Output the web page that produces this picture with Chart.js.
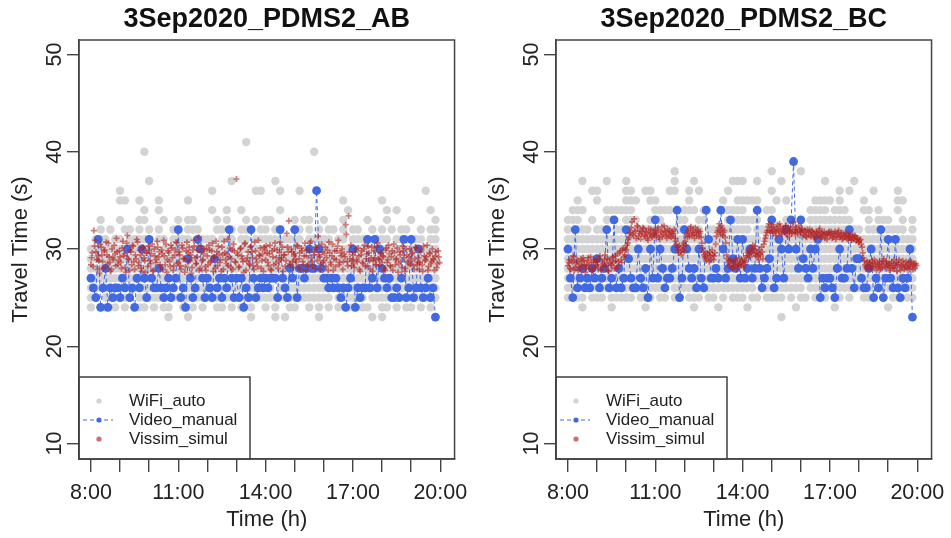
<!DOCTYPE html>
<html>
<head>
<meta charset="utf-8">
<script src="https://cdn.jsdelivr.net/npm/chart.js@4.4.1/dist/chart.umd.min.js"></script>
<style>
  body { margin: 0; background: #fff; width: 951px; height: 538px; overflow: hidden; position: relative; }
  canvas { position: absolute; top: 0; }
</style>
</head>
<body>
<canvas id="chartAB" width="476" height="538" style="left:0"></canvas>
<canvas id="chartBC" width="476" height="538" style="left:477px"></canvas>
<script>
// axis ticks
const hourTicks = [8, 9, 10, 11, 12, 13, 14, 15, 16, 17, 18, 19, 20];
const hourLabels = [8, 11, 14, 17, 20];
const yTicks = [10, 20, 30, 40, 50];
const seriesNames = ['WiFi_auto', 'Video_manual', 'Vissim_simul'];

// WiFi_auto: one row per travel-time level, one column per 10 min from 8:00 ('#' = detection)
const wifiLevelsAB = [41, 40, 37, 36, 35, 34, 33, 32, 31, 30, 29, 28, 27, 26, 25, 24, 23];
const wifiRowsAB = [
  "............ ............ ........#... ............ ............ ............",
  "...........# ............ ............ ..........#. ............ ............",
  "............ #........... .....#...... ..#......... ............ ............",
  "......#..... ............ .#........## ...#...#.... ............ .........#..",
  "......##..#. ..#.....#... ............ ............ ....#....... #...........",
  "...........# ..#......... .#..#..#.... ...#........ .....#...... .#.#......#.",
  "..#...#...## ...#..#.##.. ..#.#...#.#. ##....#.##.. #...#....#.. .#....#....#",
  "..#.#..##.#. #.#..##.###. ..##.#.###.# #.##..##.#.# .##.#.##..#. #.#.##..#.##",
  ".###.##.#### #.##.####.## ##.###.##.## ###.####.### ##.##.####.# ##.###.##.##",
  "############ ##.######### ######.##### ############ ###.######## ########.###",
  "############ ############ ############ ############ ############ ############",
  "############ ############ ############ ############ ############ ############",
  "############ ############ ############ ############ ############ ############",
  "############ ######.##### ############ ##.######### ############ ############",
  "##.######.## ####.####### ######.###.# ###.######## ##.######.## ############",
  "#.##.#.#..## .#.##..#.#.# ..##.#.#.#.. #.#..##..#.# .#.#..#.##.. ##.#.##.#.#.",
  "............ ....#...#... .........#.. ..#.#......# ..........#. #..........#"
];
const wifiLevelsBC = [38, 37, 36, 35, 34, 33, 32, 31, 30, 29, 28, 27, 26, 25, 24, 23];
const wifiRowsBC = [
  "............ ..........#. ............ ......#..... #........... ............",
  "...#....#... #.........#. ..#.......## #..#....#... .....#.....# ............",
  ".....##..... ##..##...##. .#.#.....#.. ......#..... ........#.#. ...#....#...",
  "..#...#..... ###..##..... .#......#..# ####...#.#.. ...####.#... .#......##..",
  ".###....#### ##....####.. ###.#...#### #....##..... ..####.###.. .##.#...#...",
  "###..#..##.. ###..###...# #..##....### ####.....#.. ..#########. ..#.###..#.#",
  "#.###.###.## ##.####.#### ####.##.#### ##.######.## ############ #.###.####.#",
  "############ ###.######## ############ ####.####### ############ ############",
  "############ ############ ############ ############ ############ ############",
  "############ ############ ############ ############ ############ ############",
  "############ ############ ############ ############ ############ ############",
  "############ ############ ####.####### ############ ############ ############",
  "###.######## ##.######.## ############ ###.######## #.########## ############",
  "#.##.###.### ##.###.##.## .###.##.#.## #.##.####.#. ##.###.##.#. .###.#.##.##",
  "...#.....#.. ....#....... ..#....#.... .#.........# .......#.... ......#.....",
  "............ ............ ............ ........#... ............ ............"
];

// Video_manual: one value every 5 min from 8:00 to 19:50 (s)
const videoAB = [
  27, 26, 25, 31, 24, 26, 28, 24, 26, 25, 26, 26,
  25, 27, 26, 30, 25, 26, 24, 27, 26, 30, 27, 25,
  31, 27, 26, 26, 28, 26, 25, 26, 27, 25, 26, 27,
  32, 25, 26, 24, 29, 27, 25, 26, 31, 30, 27, 25,
  27, 26, 25, 29, 26, 27, 25, 27, 26, 32, 27, 25,
  27, 25, 27, 24, 26, 25, 32, 27, 25, 26, 27, 26,
  27, 26, 27, 27, 27, 25, 32, 27, 26, 25, 28, 27,
  32, 25, 28, 28, 27, 28, 30, 28, 28, 36, 30, 28,
  27, 27, 26, 27, 26, 27, 26, 25, 26, 24, 26, 27,
  30, 24, 26, 25, 26, 26, 31, 26, 27, 31, 26, 30,
  28, 27, 26, 27, 25, 25, 26, 25, 27, 31, 25, 26,
  31, 25, 26, 30, 26, 25, 26, 27, 25, 26, 23
];
const videoBC = [
  30, 27, 25, 32, 26, 27, 28, 26, 27, 26, 28, 27,
  29, 26, 27, 28, 32, 26, 27, 33, 26, 28, 26, 27,
  32, 29, 27, 26, 26, 30, 27, 26, 28, 25, 30, 27,
  33, 27, 30, 28, 26, 27, 27, 28, 30, 34, 25, 27,
  32, 30, 28, 27, 28, 26, 30, 27, 26, 34, 31, 27,
  27, 28, 27, 34, 30, 27, 28, 33, 29, 28, 31, 27,
  31, 27, 28, 30, 27, 28, 34, 28, 26, 27, 28, 29,
  33, 26, 27, 31, 30, 27, 32, 30, 33, 39, 30, 28,
  33, 29, 28, 27, 30, 28, 30, 31, 25, 27, 26, 27,
  27, 26, 25, 28, 30, 27, 27, 28, 32, 28, 26, 29,
  29, 27, 26, 26, 28, 30, 25, 27, 26, 32, 25, 27,
  31, 27, 26, 31, 26, 25, 27, 26, 27, 30, 23
];

// Vissim_simul: two runs, one value every 3 min from 8:00 (run 1) and 8:01.5 (run 2) (s)
const vissimAB1 = [
  28.4, 29.6, 31.9, 30.9, 28.9, 29.3, 27.5, 30.2, 28.7, 29.8, 28.1, 29.4, 30.6, 28.6, 27.9, 29.1, 30.4, 28.3, 29.7, 28.8,
  29.2, 28.0, 30.8, 29.5, 27.6, 31.4, 28.9, 29.9, 28.4, 30.3, 27.9, 29.0, 30.7, 28.6, 29.4, 27.7, 30.1, 28.8, 29.6, 28.2,
  29.9, 28.5, 30.5, 27.8, 29.3, 28.9, 30.2, 29.7, 28.1, 29.5, 30.9, 28.4, 27.6, 29.8, 28.7, 30.4, 29.1, 28.3, 29.9, 30.6,
  28.6, 29.4, 27.9, 30.1, 29.0, 28.2, 30.7, 29.6, 28.8, 27.5, 29.9, 30.3, 28.5, 29.2, 31.2, 28.0, 29.7, 28.9, 30.0, 27.8,
  29.3, 30.4, 28.6, 29.8, 27.7, 29.1, 30.8, 28.3, 29.5, 28.9, 30.2, 27.9, 29.6, 28.5, 31.0, 29.2, 28.1, 29.9, 30.5, 28.7,
  37.2, 29.4, 28.2, 30.1, 29.0, 27.6, 30.6, 28.8, 29.7, 28.4, 30.3, 29.1, 27.9, 29.8, 28.6, 30.9, 29.3, 28.0, 29.5, 30.2,
  28.9, 29.6, 28.3, 30.4, 27.8, 29.2, 30.0, 28.5, 29.9, 28.7, 30.7, 29.1, 27.7, 29.4, 28.8, 30.2, 32.9, 28.4, 29.7, 28.1,
  29.5, 28.6, 30.3, 29.0, 27.9, 29.8, 28.4, 30.6, 29.3, 28.2, 29.9, 30.8, 28.7, 29.4, 28.0, 30.1, 31.3, 29.2, 28.5, 29.7,
  28.8, 30.2, 29.1, 27.8, 29.6, 28.4, 30.5, 29.0, 28.2, 29.8, 30.9, 28.6, 29.3, 27.9, 29.5, 32.5, 28.7, 33.4, 29.0, 28.3,
  29.4, 28.1, 30.0, 28.7, 29.3, 27.7, 29.8, 28.5, 30.4, 29.0, 28.3, 29.6, 27.9, 30.2, 28.8, 29.1, 28.4, 30.6, 28.9, 29.5,
  28.6, 29.2, 27.8, 30.1, 28.9, 29.5, 28.2, 29.8, 30.5, 28.4, 29.0, 27.6, 29.7, 28.7, 30.3, 29.1, 28.0, 29.4, 28.5, 30.0,
  28.8, 29.6, 27.9, 30.2, 28.4, 29.1, 28.6, 29.9, 27.7, 29.3, 28.9, 30.4, 28.2, 29.5, 28.7, 29.0, 27.8, 29.7, 28.5, 29.2
];
const vissimAB2 = [
  29.1, 28.2, 30.3, 29.7, 27.9, 28.8, 30.5, 29.4, 28.0, 29.9, 30.7, 28.5, 29.2, 27.7, 30.0, 28.9, 29.5, 31.1, 28.4, 29.8,
  28.6, 30.1, 29.3, 28.1, 30.6, 29.0, 27.8, 29.7, 30.4, 28.7, 29.4, 31.0, 28.3, 29.9, 28.0, 30.2, 29.1, 27.6, 29.6, 30.3,
  28.8, 29.5, 27.7, 30.0, 28.6, 30.8, 29.2, 28.4, 29.9, 27.9, 29.3, 30.5, 28.9, 29.6, 28.2, 30.1, 27.8, 29.4, 30.7, 28.5,
  29.7, 28.3, 30.4, 29.0, 27.6, 29.8, 28.7, 30.2, 29.4, 28.1, 30.9, 29.1, 28.5, 29.9, 27.8, 30.3, 28.8, 29.5, 28.2, 30.0,
  28.4, 29.9, 28.8, 30.6, 29.2, 28.0, 29.7, 30.3, 28.6, 27.7, 29.4, 30.8, 28.9, 29.5, 28.3, 30.1, 29.0, 27.9, 29.8, 28.6,
  29.6, 28.1, 30.0, 29.3, 28.7, 30.5, 27.8, 29.1, 28.5, 30.2, 29.7, 28.3, 30.7, 29.0, 28.2, 29.4, 30.1, 28.8, 27.7, 29.9,
  30.3, 28.6, 29.5, 27.9, 29.8, 28.4, 30.6, 29.1, 28.0, 29.6, 28.9, 30.2, 29.4, 28.2, 31.6, 29.7, 28.5, 30.0, 28.7, 29.3,
  28.9, 30.4, 28.1, 29.6, 30.1, 28.7, 29.3, 27.8, 29.9, 28.5, 30.6, 29.1, 28.3, 29.7, 30.2, 28.8, 29.4, 27.9, 30.5, 28.6,
  29.5, 28.2, 29.9, 30.7, 28.6, 29.3, 27.8, 29.8, 28.9, 30.3, 28.4, 29.6, 30.0, 28.7, 29.2, 31.5, 28.3, 29.7, 30.4, 28.8,
  28.5, 29.7, 28.9, 30.1, 27.9, 29.4, 28.6, 30.0, 28.2, 29.5, 30.3, 28.8, 29.1, 27.7, 29.8, 28.4, 30.2, 29.0, 28.3, 29.6,
  29.3, 28.0, 29.9, 28.6, 30.4, 28.3, 29.2, 27.8, 29.6, 28.9, 30.1, 28.5, 29.4, 28.1, 29.8, 27.7, 30.0, 28.7, 29.2, 28.4,
  29.5, 28.3, 29.0, 30.1, 28.6, 27.9, 29.7, 28.4, 30.3, 28.8, 29.2, 27.8, 29.6, 28.5, 30.0, 28.9, 29.3, 28.1, 29.8, 28.6
];
const vissimBC1 = [
  28.3, 28.9, 27.9, 28.6, 29.2, 28.1, 28.7, 27.8, 28.5, 29.0, 28.2, 28.8, 27.6, 28.4, 29.1, 28.0, 28.6, 27.9, 28.9, 28.3,
  28.7, 28.1, 29.3, 27.8, 28.5, 28.9, 28.2, 29.0, 27.7, 28.6, 28.4, 29.2, 28.0, 28.8, 29.5, 28.3, 29.8, 28.6, 30.1, 29.4,
  29.9, 30.6, 31.2, 31.7, 32.8, 31.4, 31.9, 31.1, 32.3, 31.6, 31.0, 31.8, 32.1, 31.3, 31.7, 30.9, 31.5, 32.0, 31.2, 31.6,
  31.9, 31.4, 32.2, 31.0, 31.7, 31.3, 32.4, 31.8, 31.1, 31.5, 31.9, 31.2, 31.6, 32.0, 30.8, 30.2, 29.6, 30.1, 29.4, 30.3,
  29.8, 30.4, 31.2, 31.6, 32.1, 31.4, 31.9, 31.1, 31.7, 32.0, 31.3, 31.8, 30.6, 29.7, 29.2, 28.8, 29.5, 28.7, 29.3, 29.9,
  28.9, 29.6, 31.3, 31.9, 32.6, 31.5, 32.1, 31.7, 31.2, 29.4, 28.6, 28.2, 28.9, 28.0, 28.5, 28.8, 27.9, 28.4, 29.0, 28.3,
  28.7, 28.1, 28.6, 29.3, 29.8, 29.2, 29.6, 30.4, 30.0, 29.3, 29.7, 28.9, 29.5, 30.2, 29.0, 30.8, 31.4, 31.9, 32.6, 31.7,
  32.2, 31.6, 32.0, 31.4, 32.5, 31.8, 32.3, 31.5, 32.1, 31.7, 32.4, 31.9, 31.3, 32.0, 31.6, 32.8, 31.8, 32.2, 31.5, 32.0,
  31.7, 32.1, 31.4, 31.9, 31.2, 31.6, 32.0, 31.3, 31.8, 31.5, 31.1, 31.7, 31.4, 32.1, 31.6, 31.2, 31.8, 31.5, 31.0, 31.7,
  31.4, 31.8, 31.2, 31.6, 31.0, 31.5, 31.9, 31.3, 31.7, 31.1, 31.4, 31.6, 31.0, 31.3, 31.5, 30.9, 31.2, 31.4, 30.8, 31.1,
  30.7, 31.0, 30.2, 29.1, 28.4, 28.0, 28.6, 27.9, 28.3, 28.8, 28.1, 28.5, 27.8, 28.2, 28.7, 28.0, 28.4, 29.0, 28.1, 28.6,
  28.2, 27.8, 28.5, 28.0, 28.9, 28.3, 27.7, 28.6, 28.1, 28.4, 28.8, 27.9, 28.3, 28.0, 28.6, 28.2, 28.7, 27.9, 28.4, 28.5
];
const vissimBC2 = [
  28.6, 28.0, 28.8, 29.3, 27.8, 28.5, 28.9, 28.2, 27.9, 28.7, 29.1, 28.4, 28.0, 28.8, 28.3, 29.2, 27.7, 28.6, 28.1, 28.9,
  28.4, 29.0, 27.9, 28.7, 28.2, 29.4, 28.5, 27.8, 28.9, 28.3, 29.1, 28.6, 29.3, 28.0, 28.7, 29.6, 28.9, 29.9, 29.2, 30.0,
  30.4, 31.0, 31.6, 32.2, 31.5, 33.1, 31.8, 32.4, 31.3, 31.9, 31.5, 32.2, 31.4, 31.8, 31.1, 32.1, 31.6, 31.3, 31.9, 31.4,
  31.6, 32.0, 31.2, 31.8, 32.3, 31.5, 31.9, 31.4, 32.1, 31.7, 31.3, 31.8, 31.5, 31.1, 30.5, 29.9, 30.4, 29.7, 29.9, 30.6,
  30.8, 31.5, 31.9, 31.3, 32.3, 31.7, 31.5, 32.2, 31.4, 31.8, 31.6, 31.2, 30.1, 29.4, 29.0, 29.6, 29.1, 29.7, 28.9, 29.4,
  29.3, 30.5, 31.7, 32.2, 31.8, 32.4, 31.4, 31.9, 30.6, 29.0, 28.8, 28.5, 28.1, 28.7, 28.3, 29.1, 28.6, 28.2, 28.5, 28.9,
  28.4, 28.8, 29.1, 29.6, 29.4, 30.1, 29.9, 29.5, 30.3, 29.6, 29.2, 29.9, 29.4, 29.7, 30.5, 31.1, 31.7, 32.3, 31.9, 32.5,
  31.8, 32.3, 31.7, 32.1, 31.9, 32.6, 31.6, 32.0, 31.8, 32.4, 31.5, 32.2, 31.9, 31.7, 32.3, 31.6, 32.0, 31.7, 32.4, 31.8,
  32.0, 31.5, 31.8, 31.3, 32.0, 31.7, 31.4, 31.9, 31.6, 31.2, 31.8, 31.5, 31.9, 31.3, 31.7, 31.5, 31.1, 31.6, 31.4, 31.8,
  31.6, 31.1, 31.5, 31.8, 31.3, 31.7, 31.2, 31.5, 31.0, 31.6, 31.3, 31.1, 31.5, 31.2, 30.9, 31.4, 31.0, 31.3, 31.1, 30.7,
  30.9, 30.5, 29.6, 28.8, 28.2, 28.7, 28.3, 28.6, 28.0, 28.5, 28.9, 28.2, 28.6, 28.4, 27.9, 28.5, 28.8, 28.2, 28.7, 28.3,
  28.5, 28.1, 28.7, 28.3, 28.0, 28.6, 28.4, 28.9, 27.8, 28.2, 28.5, 28.1, 28.7, 28.4, 27.9, 28.6, 28.2, 28.5, 28.0, 28.3
];

const startHour = 8;
const FONT = "'Liberation Sans', Arial, sans-serif";
Chart.defaults.font.family = FONT;

function gridPoints(levels, rows, stepMin) {
  const pts = [];
  rows.forEach((row, r) => {
    row.replace(/ /g, '').split('').forEach((c, i) => {
      if (c === '#') pts.push({ x: startHour + i * stepMin / 60, y: levels[r] });
    });
  });
  return pts;
}
function seriesPoints(values, stepMin, offsetMin = 0) {
  return values.map((v, i) => ({ x: startHour + (offsetMin + i * stepMin) / 60, y: v }));
}

// plot frame and the legend box inside the plot
const frameAndLegend = {
  id: 'frameAndLegend',
  afterDatasetsDraw(chart) {
    const { ctx, chartArea: a } = chart;
    const ds = chart.data.datasets;
    ctx.save();
    const lx = a.left, lh = 82, ly = a.bottom - lh, lw = 171;
    ctx.fillStyle = '#fff';
    ctx.fillRect(lx, ly, lw, lh);
    ctx.strokeStyle = '#222';
    ctx.lineWidth = 1.3;
    ctx.strokeRect(lx, ly, lw, lh);
    const rowsY = [ly + 24, ly + 43, ly + 62];
    const sx = lx + 20;
    // WiFi
    ctx.fillStyle = ds[0].pointBackgroundColor;
    ctx.beginPath(); ctx.arc(sx, rowsY[0], 2.6, 0, Math.PI * 2); ctx.fill();
    // Video
    ctx.strokeStyle = ds[1].borderColor;
    ctx.lineWidth = 1;
    ctx.setLineDash([4, 3]);
    ctx.beginPath(); ctx.moveTo(lx + 4, rowsY[1]); ctx.lineTo(lx + 34, rowsY[1]); ctx.stroke();
    ctx.setLineDash([]);
    ctx.fillStyle = ds[1].pointBackgroundColor;
    ctx.beginPath(); ctx.arc(sx, rowsY[1], 2.6, 0, Math.PI * 2); ctx.fill();
    // Vissim
    ctx.fillStyle = 'rgba(190, 60, 60, 0.75)';
    ctx.beginPath(); ctx.arc(sx, rowsY[2], 2.6, 0, Math.PI * 2); ctx.fill();
    ctx.fillStyle = '#222';
    ctx.font = '17px ' + FONT;
    ctx.textBaseline = 'middle';
    ctx.textAlign = 'left';
    seriesNames.forEach((n, i) => ctx.fillText(n, lx + 50, rowsY[i]));
    // box around the plot
    ctx.strokeStyle = '#444';
    ctx.lineWidth = 1.5;
    ctx.strokeRect(a.left, a.top, a.right - a.left, a.bottom - a.top);
    ctx.restore();
  }
};

function makeChart(id, title, wifi, video, vissim) {
  const axisLine = { drawOnChartArea: false, drawTicks: true, color: '#444', lineWidth: 1.4 };
  return new Chart(document.getElementById(id), {
    type: 'scatter',
    data: {
      datasets: [
        { label: seriesNames[0], data: wifi, order: 3,
          pointRadius: 4.2, pointBackgroundColor: '#d3d3d3', pointBorderWidth: 0 },
        { label: seriesNames[1], data: video, order: 2, showLine: true,
          borderColor: '#4169e1', borderWidth: 1, borderDash: [4, 3],
          pointRadius: 4.4, pointBackgroundColor: '#4169e1', pointBorderWidth: 0 },
        { label: seriesNames[2], data: vissim, order: 1, pointStyle: 'cross',
          pointRadius: 3, pointBorderWidth: 1.7, pointBorderColor: 'rgba(178, 34, 34, 0.6)',
          pointBackgroundColor: 'rgba(178, 34, 34, 0.6)' }
      ]
    },
    options: {
      responsive: false,
      animation: false,
      layout: { padding: { top: 0, right: 19, bottom: 0, left: 0 } },
      plugins: {
        legend: { display: false },
        tooltip: { enabled: false },
        title: {
          display: true, text: title, fullSize: false, color: '#111',
          font: { size: 27, weight: 'bold' }, padding: { top: 3, bottom: 4.6 }
        }
      },
      scales: {
        x: {
          type: 'linear', min: 7.59, max: 20.49,
          afterBuildTicks: s => { s.ticks = hourTicks.map(v => ({ value: v })); },
          afterFit: s => { s.height = 79; },
          grid: { ...axisLine, tickLength: 13 },
          border: { display: true, color: '#444', width: 1.4 },
          ticks: {
            autoSkip: false, maxRotation: 0, padding: 8, color: '#222', font: { size: 21.5 },
            callback: v => hourLabels.includes(v) ? v + ':00' : ''
          },
          title: { display: true, text: 'Time (h)', color: '#222', font: { size: 22 }, padding: { top: 0, bottom: 5 } }
        },
        y: {
          type: 'linear', min: 8.4, max: 51.5,
          afterBuildTicks: s => { s.ticks = yTicks.map(v => ({ value: v })); },
          afterFit: s => { s.width = 79; },
          grid: { ...axisLine, tickLength: 12 },
          border: { display: true, color: '#444', width: 1.4 },
          ticks: { minRotation: 90, maxRotation: 90, crossAlign: 'center', padding: 0, color: '#222', font: { size: 21.5 } },
          title: { display: true, text: 'Travel Time (s)', color: '#222', font: { size: 22 }, padding: { top: 8, bottom: 0 } }
        }
      }
    },
    plugins: [frameAndLegend]
  });
}

makeChart('chartAB', '3Sep2020_PDMS2_AB',
  gridPoints(wifiLevelsAB, wifiRowsAB, 10), seriesPoints(videoAB, 5),
  seriesPoints(vissimAB1, 3).concat(seriesPoints(vissimAB2, 3, 1.5)));
makeChart('chartBC', '3Sep2020_PDMS2_BC',
  gridPoints(wifiLevelsBC, wifiRowsBC, 10), seriesPoints(videoBC, 5),
  seriesPoints(vissimBC1, 3).concat(seriesPoints(vissimBC2, 3, 1.5)));
</script>
</body>
</html>
